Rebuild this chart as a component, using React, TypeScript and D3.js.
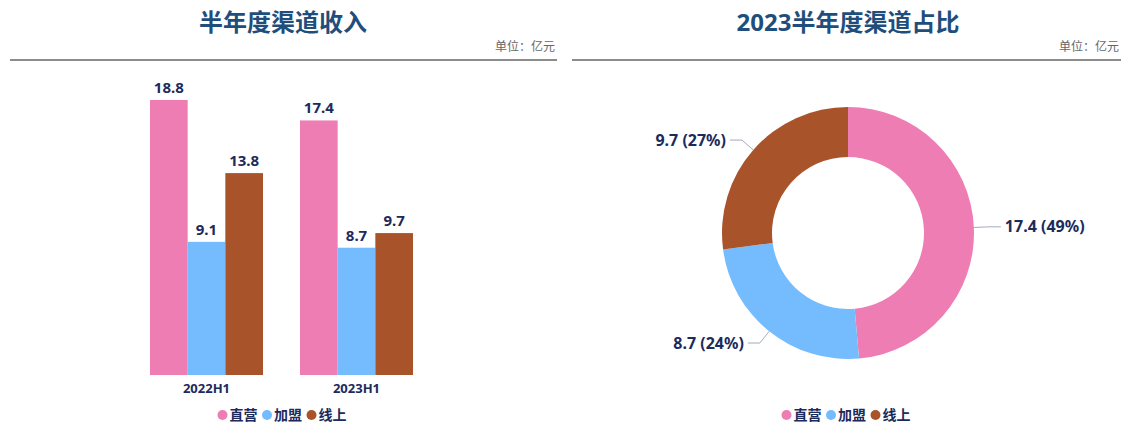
import React from 'react';
import * as d3 from 'd3';

const periods = ['2022H1', '2023H1'];
const channels = ['直营', '加盟', '线上'];
const revenue2022 = [18.8, 9.1, 13.8];
const revenue2023 = [17.4, 8.7, 9.7];
const channelColors = ['#ee7db4', '#74bcfd', '#a9532a'];

const W = 1121;
const H = 423;
const FONT = '"Noto Sans", "Noto Sans CJK SC", sans-serif';
const NAVY = '#1c2a5c';
const TITLE = '#1f4e7d';

const Legend: React.FC<{ cx: number; y: number }> = ({ cx, y }) => {
	const itemW = 44.5;
	const start = cx - (itemW * channels.length - 4.5) / 2;
	return (
		<g>
			{channels.map((c, i) => (
				<g key={c} transform={`translate(${start + i * itemW},${y})`}>
					<circle cx={5} cy={0} r={5} fill={channelColors[i]} />
					<text x={12} y={5} fontSize={14} fontWeight={700} fill={NAVY}>{c}</text>
				</g>
			))}
		</g>
	);
};

const Header: React.FC<{ title: string; cx: number; x0: number; x1: number }> = ({ title, cx, x0, x1 }) => (
	<g>
		<text x={cx} y={31} textAnchor="middle" fontSize={24} fontWeight={700} fill={TITLE}>{title}</text>
		<text x={x1 - 2} y={51} textAnchor="end" fontSize={12} fill="#666">单位：亿元</text>
		<line x1={x0} x2={x1} y1={60} y2={60} stroke="#8c8c8c" strokeWidth={2} />
	</g>
);

const BarChart: React.FC = () => {
	const rows = [revenue2022, revenue2023];
	const x0 = d3.scaleBand<string>().domain(periods).range([131.5, 431.5]).paddingInner(0.2467).paddingOuter(0.1233);
	const x1 = d3.scaleBand<string>().domain(channels).range([0, x0.bandwidth()]);
	const y = d3.scaleLinear().domain([0, 20]).range([375, 82.4]);
	return (
		<g>
			<Header title="半年度渠道收入" cx={283} x0={10} x1={557} />
			{periods.map((p, pi) => (
				<g key={p} transform={`translate(${x0(p)},0)`}>
					{channels.map((c, ci) => {
						const v = rows[pi][ci];
						return (
							<g key={c}>
								<rect x={x1(c)} y={y(v)} width={x1.bandwidth()} height={y(0) - y(v)} fill={channelColors[ci]} />
								<text x={(x1(c) ?? 0) + x1.bandwidth() / 2} y={y(v) - 7} textAnchor="middle"
									fontSize={15} fontWeight={700} fill={NAVY}>{v.toFixed(1)}</text>
							</g>
						);
					})}
					<text x={x0.bandwidth() / 2} y={393} textAnchor="middle" fontSize={13} fontWeight={700} fill={NAVY}>{p}</text>
				</g>
			))}
			<Legend cx={282} y={415} />
		</g>
	);
};

const DonutChart: React.FC = () => {
	const cx = 848;
	const cy = 233;
	const rOut = 126;
	const rIn = 76;
	const total = d3.sum(revenue2023);
	const pie = d3.pie<number>().sort(null).startAngle(0).endAngle(2 * Math.PI);
	const arcs = pie(revenue2023);
	const arc = d3.arc<d3.PieArcDatum<number>>().innerRadius(rIn).outerRadius(rOut);
	return (
		<g>
			<Header title="2023半年度渠道占比" cx={848} x0={572} x1={1121} />
			<g transform={`translate(${cx},${cy})`}>
				{arcs.map((a, i) => (
					<path key={channels[i]} d={arc(a) ?? ''} fill={channelColors[i]} />
				))}
				{arcs.map((a, i) => {
					const m = (a.startAngle + a.endAngle) / 2;
					const sx = Math.sin(m);
					const sy = -Math.cos(m);
					const p0 = [rOut * sx, rOut * sy];
					const p1 = [(rOut + 15) * sx, (rOut + 15) * sy];
					const dir = sx >= 0 ? 1 : -1;
					const p2 = [p1[0] + dir * 12, p1[1]];
					const pct = Math.round((a.data / total) * 100);
					return (
						<g key={'l' + i}>
							<polyline points={[p0, p1, p2].map(p => p.join(',')).join(' ')} fill="none" stroke="#a3abba" strokeWidth={1} />
							<text x={p2[0] + dir * 4} y={p2[1] + 5.5} textAnchor={dir > 0 ? 'start' : 'end'}
								fontSize={16} fontWeight={700} fill={NAVY}>{`${a.data.toFixed(1)} (${pct}%)`}</text>
						</g>
					);
				})}
			</g>
			<Legend cx={846} y={415} />
		</g>
	);
};

const App: React.FC = () => (
	<svg width={W} height={H} viewBox={`0 0 ${W} ${H}`}
		style={{ position: 'absolute', left: 0, top: 0, fontFamily: FONT, background: '#fff' }}>
		<rect width={W} height={H} fill="#fff" />
		<BarChart />
		<DonutChart />
	</svg>
);

export default App;
